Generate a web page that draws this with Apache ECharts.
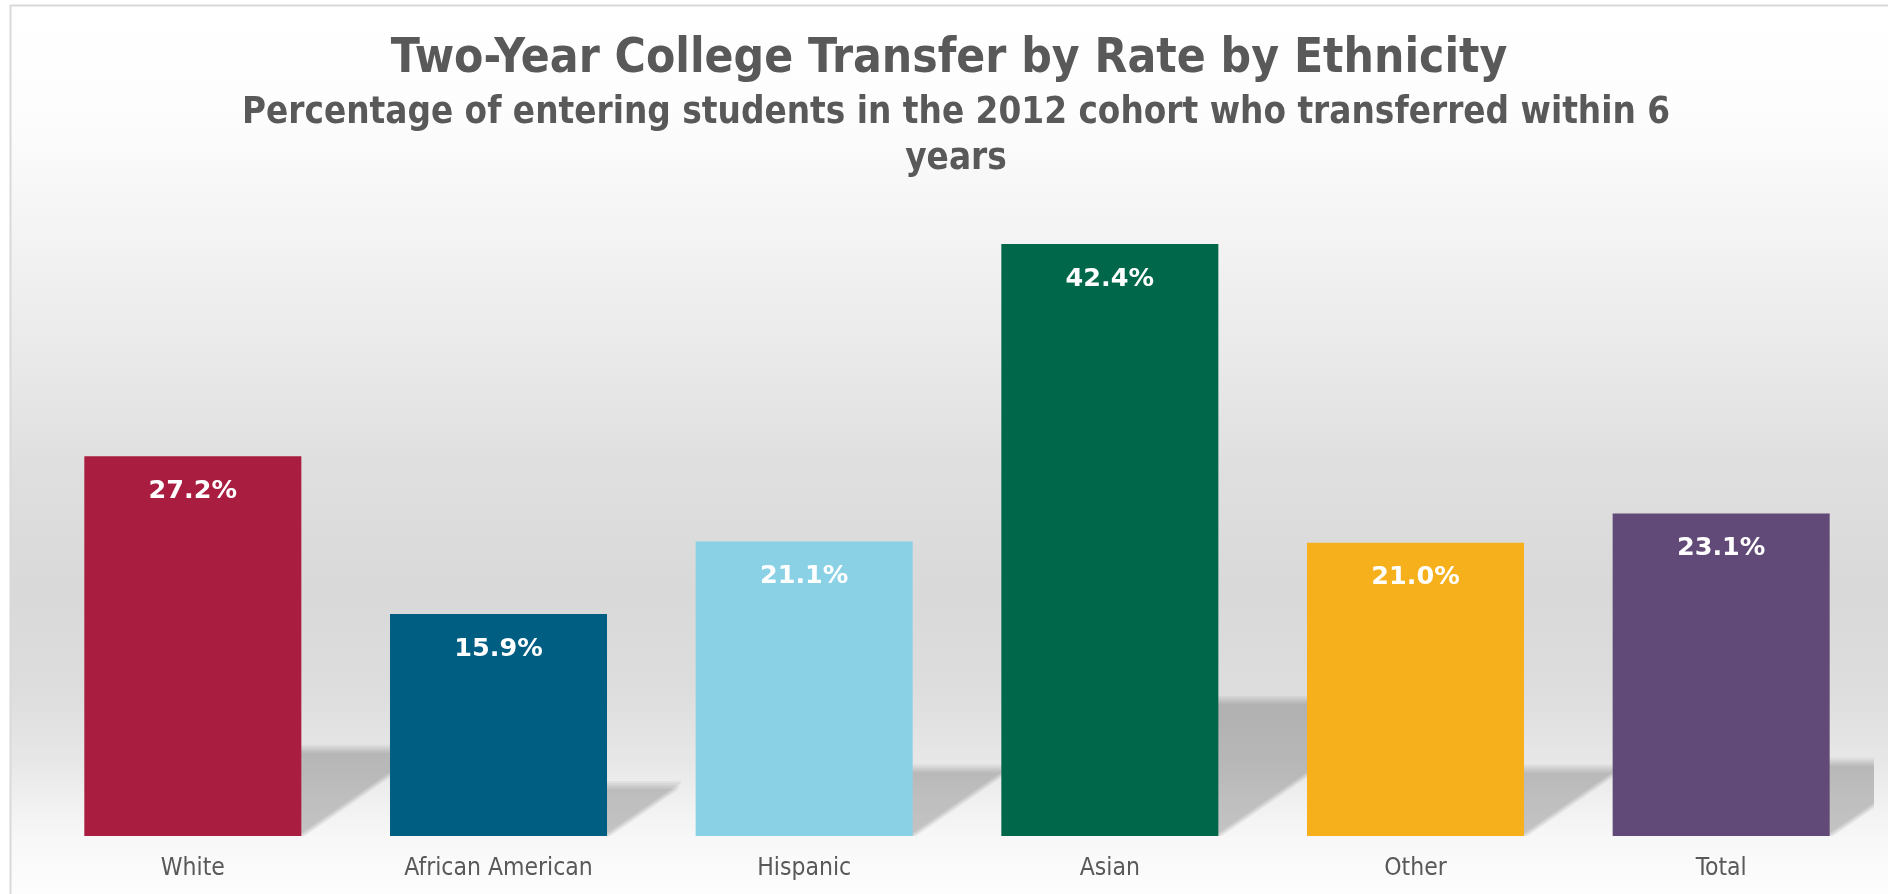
<!DOCTYPE html>
<html>
<head>
<meta charset="utf-8">
<title>Two-Year College Transfer by Rate by Ethnicity</title>
<script src="https://cdn.jsdelivr.net/npm/echarts@6/dist/echarts.min.js"></script>
<style>
  html, body { margin: 0; padding: 0; background: #ffffff; }
  #chart { width: 1888px; height: 894px; }
</style>
</head>
<body>
<div id="chart"></div>
<script>
// Transfer rates of the 2012 entering cohort, by ethnicity (percent)
const categories = ['White', 'African American', 'Hispanic', 'Asian', 'Other', 'Total'];
const rates = [27.2, 15.9, 21.1, 42.4, 21.0, 23.1];
const barColors = ['#A91D40', '#005E83', '#8BD1E6', '#00674A', '#F5B01C', '#614A77'];

const titleText = 'Two-Year College Transfer by Rate by Ethnicity';
const subtitleText = 'Percentage of entering students in the 2012 cohort who transferred within 6\nyears';

const GAP = 0.29;          // share of each category band left empty
const SHADOW_RATIO = 0.23; // cast shadow height relative to bar height
const SLOPE = 0.69;        // rise of the shadow's diagonal edge per pixel
const LAYERS = [-4, -2, 0, 2, 4];
const LAYER_ALPHA = 1 - Math.pow(1 - 0.19, 1 / LAYERS.length);

const chart = echarts.init(document.getElementById('chart'), null, { renderer: 'canvas' });

// one soft-edged shadow layer to the right of a bar
function shadowPoly(xr, yb, yTop, ext, od) {
  const xMeet = xr + od + (yb - yTop) / SLOPE;
  const pts = [[xr - 1, yTop]];
  if (xMeet < xr + ext) {
    pts.push([xMeet, yTop]);
  } else {
    pts.push([xr + ext, yTop]);
    pts.push([xr + ext, yb - SLOPE * (ext - od)]);
  }
  pts.push([xr + od, yb]);
  pts.push([xr - 1, yb]);
  return pts;
}

function renderShadow(params, api) {
  const idx = api.value(0);
  const val = api.value(1);
  const top = api.coord([idx, val]);
  const base = api.coord([idx, 0]);
  const band = api.size([1, 0])[0];
  const bw = band * (1 - GAP);
  const xr = base[0] + bw / 2;
  const yb = base[1];
  const hs = (yb - top[1]) * SHADOW_RATIO;
  const ext = band - bw + 6;
  const children = LAYERS.map(function (o) {
    return {
      type: 'polygon',
      shape: { points: shadowPoly(xr, yb, yb - hs + o, ext, o) },
      style: { fill: 'rgba(0,0,0,' + LAYER_ALPHA.toFixed(4) + ')' },
      silent: true
    };
  });
  return { type: 'group', children: children };
}

const option = {
  animation: false,
  graphic: {
    elements: [
      {
        type: 'rect',
        z: -10,
        silent: true,
        shape: { x: 10, y: 5, width: 1878, height: 889 },
        style: {
          fill: new echarts.graphic.LinearGradient(0, 0, 0, 1, [
            { offset: 0.00, color: '#ffffff' },
            { offset: 0.12, color: '#fdfdfd' },
            { offset: 0.22, color: '#f6f6f6' },
            { offset: 0.40, color: '#e9e9e9' },
            { offset: 0.52, color: '#dfdfdf' },
            { offset: 0.66, color: '#d9d9d9' },
            { offset: 0.77, color: '#dddddd' },
            { offset: 0.85, color: '#e7e7e7' },
            { offset: 0.90, color: '#f1f1f1' },
            { offset: 0.94, color: '#f8f8f8' },
            { offset: 1.00, color: '#fdfdfd' }
          ])
        }
      },
      {
        type: 'line', z: -9, silent: true,
        shape: { x1: 10, y1: 5.5, x2: 1888, y2: 5.5 },
        style: { stroke: '#d9d9d9', lineWidth: 2 }
      },
      {
        type: 'line', z: -9, silent: true,
        shape: { x1: 10.5, y1: 5, x2: 10.5, y2: 894 },
        style: { stroke: '#d9d9d9', lineWidth: 2 }
      }
    ]
  },
  title: [
    {
      text: titleText,
      left: 944,
      top: 31,
      textAlign: 'center',
      textStyle: {
        fontFamily: "'DejaVu Sans Condensed', 'DejaVu Sans', sans-serif",
        fontWeight: 'bold',
        fontSize: 47.5,
        color: '#595959'
      }
    },
    {
      text: subtitleText,
      left: 951,
      top: 86,
      textAlign: 'center',
      textStyle: {
        fontFamily: "'DejaVu Sans Condensed', 'DejaVu Sans', sans-serif",
        fontWeight: 'bold',
        fontSize: 36.5,
        lineHeight: 46,
        color: '#595959'
      }
    }
  ],
  grid: {
    left: 40,
    right: 14,
    top: 138,
    bottom: 58,
    containLabel: false
  },
  xAxis: {
    type: 'category',
    data: categories,
    axisLine: { show: false },
    axisTick: { show: false },
    axisLabel: {
      margin: 20,
      fontFamily: "'DejaVu Sans Condensed', 'DejaVu Sans', sans-serif",
      fontSize: 24.5,
      color: '#595959'
    }
  },
  yAxis: {
    type: 'value',
    min: 0,
    max: 50,
    show: false,
    splitLine: { show: false }
  },
  series: [
    {
      type: 'custom',
      name: 'shadow',
      z: 1,
      clip: true,
      silent: true,
      renderItem: renderShadow,
      encode: { x: 0, y: 1 },
      data: rates.map(function (v, i) { return [i, v]; })
    },
    {
      type: 'bar',
      name: 'Transfer rate',
      z: 2,
      barCategoryGap: (GAP * 100) + '%',
      data: rates.map(function (v, i) {
        return { value: v, itemStyle: { color: barColors[i] } };
      }),
      label: {
        show: true,
        position: 'insideTop',
        distance: 22,
        color: '#ffffff',
        fontFamily: "'DejaVu Sans', sans-serif",
        fontWeight: 'bold',
        fontSize: 25.5,
        formatter: function (p) { return p.value.toFixed(1) + '%'; }
      }
    }
  ]
};

chart.setOption(option);
</script>
</body>
</html>
